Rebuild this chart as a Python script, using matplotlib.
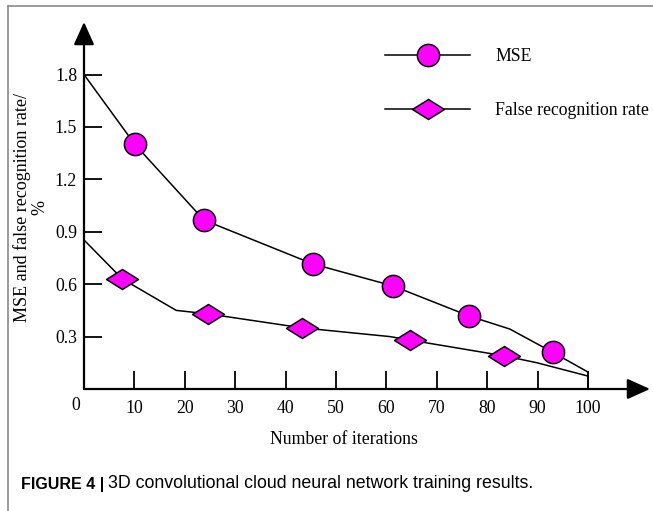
import matplotlib.pyplot as plt
from matplotlib.path import Path
from matplotlib.lines import Line2D

# MSE curve (line vertices) and which of them carry a marker
mse_x = [0, 10.1, 23.8, 45.4, 61.3, 76.4, 84.5, 93.0, 100]
mse_y = [1.80, 1.40, 0.967, 0.716, 0.59, 0.418, 0.343, 0.21, 0.097]
mse_marks = [1, 2, 3, 4, 5, 7]

# false recognition rate curve
frr_x = [0, 7.6, 18.3, 24.6, 43.3, 60.7, 64.7, 83.3, 89.9, 100]
frr_y = [0.853, 0.63, 0.45, 0.43, 0.35, 0.30, 0.28, 0.19, 0.15, 0.074]
frr_marks = [1, 3, 4, 6, 7]

xticks = [10, 20, 30, 40, 50, 60, 70, 80, 90, 100]
yticks = [0.3, 0.6, 0.9, 1.2, 1.5, 1.8]

plt.rcParams['font.family'] = ['Liberation Serif', 'DejaVu Serif']
W, H = 653, 511
fig = plt.figure(figsize=(W / 100, H / 100), dpi=100)

# gray frame on top and left of the figure
fig.add_artist(Line2D([8 / W, 1], [1 - 6 / H, 1 - 6 / H], color='#8a8a8a', lw=1.2))
fig.add_artist(Line2D([8 / W, 8 / W], [0, 1 - 6 / H], color='#8a8a8a', lw=1.2))

x0, x1, y0, y1 = 84, 650, 389, 22
ax = fig.add_axes([x0 / W, 1 - y0 / H, (x1 - x0) / W, (y0 - y1) / H])
ax.set_xlim(0, (x1 - x0) / 5.04)
ax.set_ylim(0, (y0 - y1) / 174.7)
for s in ax.spines.values():
    s.set_visible(False)

diamond = Path([(-1.6, 0), (0, 1), (1.6, 0), (0, -1), (-1.6, 0)],
               [Path.MOVETO, Path.LINETO, Path.LINETO, Path.LINETO, Path.CLOSEPOLY])

ax.plot(mse_x, mse_y, color='black', lw=1.1, marker='o', markevery=mse_marks,
        ms=16, mfc='#ff00ff', mec='black', mew=1.1, label='MSE', zorder=3)
ax.plot(frr_x, frr_y, color='black', lw=1.1, marker=diamond, markevery=frr_marks,
        ms=23, mfc='#ff00ff', mec='black', mew=1.1, label='False recognition rate', zorder=3)

# end-cap at x=100
ax.plot([100, 100], [frr_y[-1], 0.0], color='black', lw=1.1)

# axes with arrows
ax.annotate('', xy=(0, 1), xytext=(0, 0), xycoords='axes fraction',
            arrowprops=dict(arrowstyle='-|>,head_length=1.0,head_width=0.45',
                            color='black', lw=1.6, shrinkA=0, shrinkB=0, mutation_scale=14))
ax.annotate('', xy=(1, 0), xytext=(0, 0), xycoords='axes fraction',
            arrowprops=dict(arrowstyle='-|>,head_length=1.0,head_width=0.45',
                            color='black', lw=1.6, shrinkA=0, shrinkB=0, mutation_scale=14))

ax.set_xticks(xticks)
ax.set_yticks(yticks)
ax.set_yticklabels(['%.1f' % v for v in yticks])
ax.tick_params(axis='both', direction='in', length=13, width=1.3, labelsize=12.8, color='black')
ax.tick_params(axis='x', pad=8)
ax.tick_params(axis='y', pad=5)
ax.text(-1.6, -0.097, '0', fontsize=12.8, ha='center', va='center')

fig.text(344 / W, 1 - 439 / H, 'Number of iterations', fontsize=12.8, ha='center', va='center')
fig.text(31 / W, 1 - 207 / H, 'MSE and false recognition rate/\n%', rotation=90,
         fontsize=13, ha='center', va='center', multialignment='center', linespacing=1.05)

ax.legend(loc='upper left', bbox_to_anchor=(385 / W, 1 - 48 / H), bbox_transform=fig.transFigure,
          frameon=False, fontsize=12.8, handlelength=4.8, handletextpad=1.4,
          labelspacing=2.1, numpoints=1, borderpad=0, borderaxespad=0)

# caption
fig.text(21 / W, 1 - 484 / H, 'FIGURE 4 |', family='Liberation Sans', weight='bold',
         fontsize=11.5, va='center')
fig.text(108 / W, 1 - 484 / H, '3D convolutional cloud neural network training results.',
         family='Liberation Sans', fontsize=12.8, va='center')

fig.savefig('out.png', dpi=100)
